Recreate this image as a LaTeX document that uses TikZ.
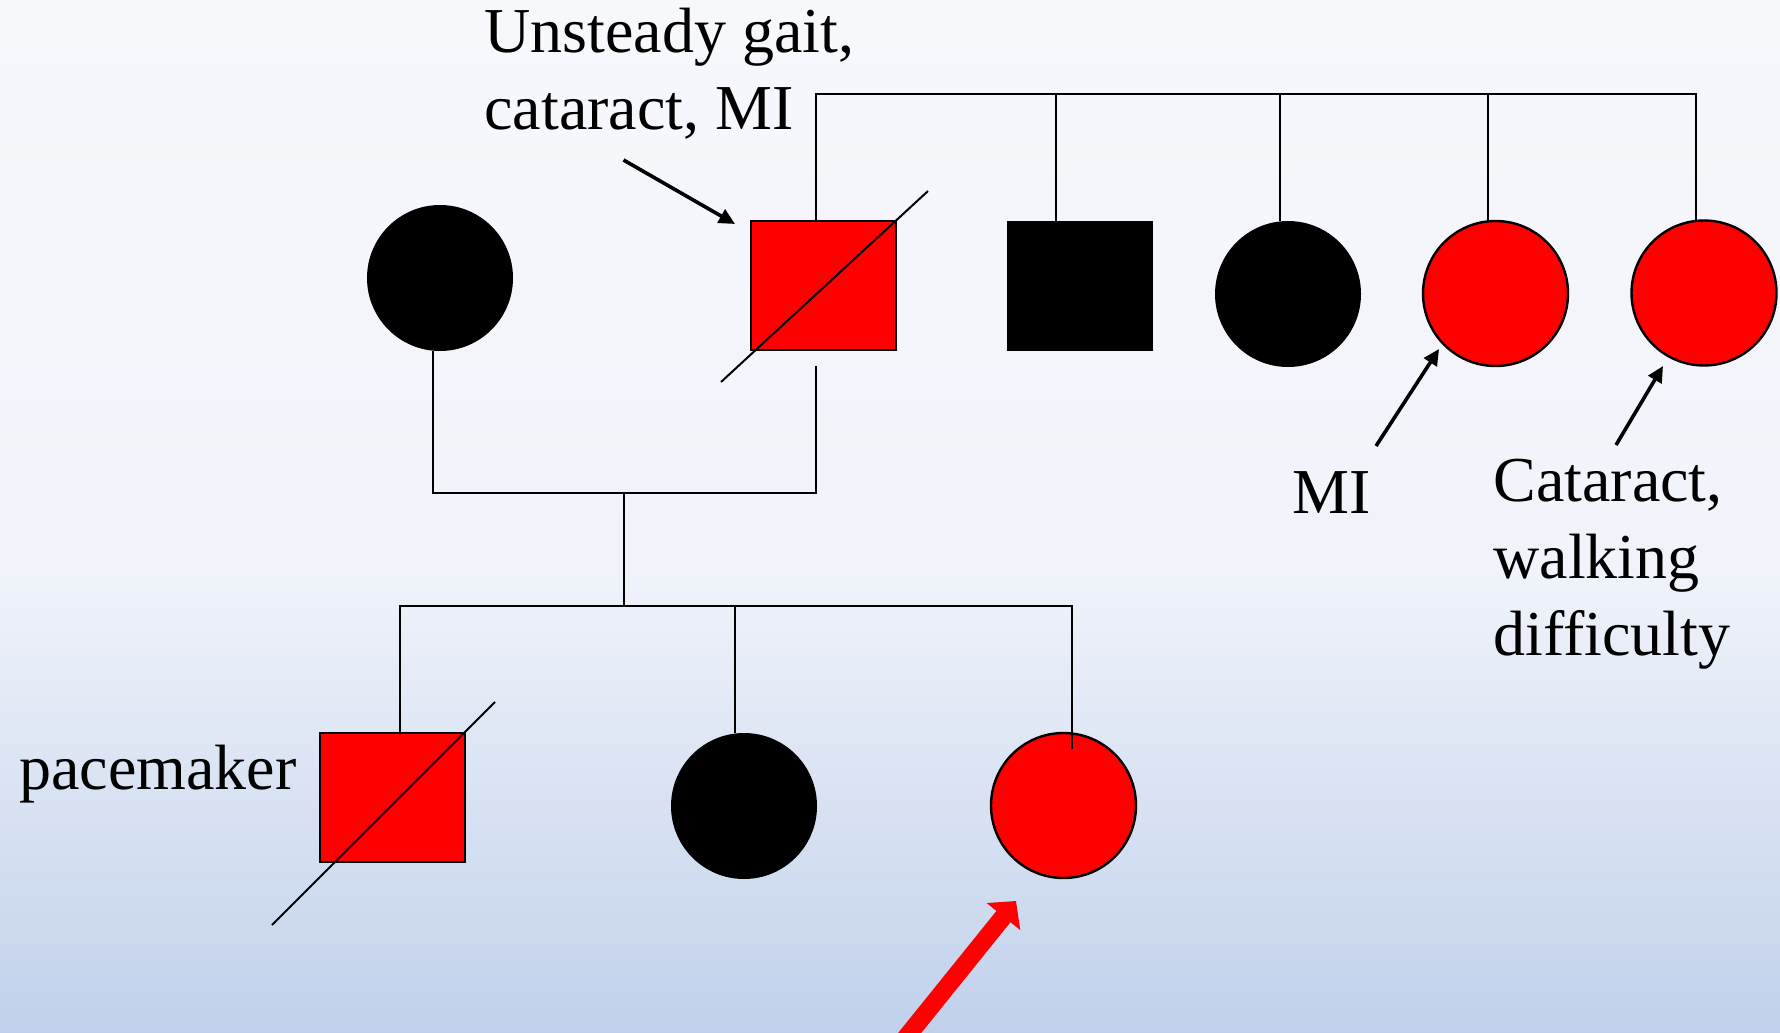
\documentclass[tikz,border=0pt]{standalone}
\usepackage{fontspec}
\setmainfont{Liberation Serif}
\usetikzlibrary{arrows.meta}
\definecolor{bgtop}{HTML}{F7F8FC}
\definecolor{bgmid}{HTML}{F0F3FA}
\definecolor{bgbot}{HTML}{C1D1EB}
\definecolor{aff}{HTML}{FF0000}
\pgfdeclareverticalshading{bgsh}{100bp}{color(0bp)=(bgbot); color(25bp)=(bgbot); color(47.4bp)=(bgmid); color(75bp)=(bgtop); color(100bp)=(bgtop)}
\tikzset{
  person/.style={inner sep=0pt, outer sep=0pt},
  femaleU/.style={person, circle, fill=black, minimum size=73pt},
  femaleA/.style={person, circle, fill=aff, draw=black, line width=1.2pt, minimum size=72.5pt},
  maleU/.style={person, rectangle, fill=black, minimum width=73pt, minimum height=65pt},
  maleA/.style={person, rectangle, fill=aff, draw=black, line width=1.1pt, minimum width=72.5pt, minimum height=64.5pt},
  link/.style={draw=black, line width=1pt},
  dead/.style={draw=black, line width=1pt},
  callout/.style={draw=black, line width=1.8pt, -{Triangle[length=8pt,width=7.5pt]}},
  proband/.style={draw=aff, line width=9pt, -{Triangle[length=10pt,width=21pt]}},
  lbl/.style={inner sep=0pt, font=\fontsize{32}{38.5}\selectfont, align=left}
}
\begin{document}
\begin{tikzpicture}[x=0.5pt,y=-0.5pt]
\useasboundingbox (0,0) rectangle (1780,1032);
\shade[shading=bgsh] (0,0) rectangle (1780,1032);

% top row
\node[femaleU] (gm) at (440,278) {};
\node[maleA]   (gf) at (823.5,285.5) {};
\node[maleU]   (u1) at (1080,286) {};
\node[femaleU] (a1) at (1288,294) {};
\node[femaleA] (a2) at (1495.5,293.5) {};
\node[femaleA] (a3) at (1704,293) {};

% children row
\node[maleA]   (c1) at (392.5,797.5) {};
\node[femaleU] (c2) at (744,806) {};
\node[femaleA] (c3) at (1063.5,805.5) {};

% sibship line of the top row
\coordinate (tL) at (816,94);
\coordinate (tR) at (1696,94);
\draw[link] (gf.north -| tL) -- (tL) -- (tR) -- (a3.north -| tR);
\draw[link] (tL -| 1056,0) -- (u1.north -| 1056,0);
\draw[link] (tL -| 1280,0) -- (1280,221);
\draw[link] (tL -| 1488,0) -- (1488,221.5);

% deceased strokes
\draw[dead] (721,382) -- (928,191);
\draw[dead] (272,925) -- (495,702);

% mating line
\coordinate (mL) at (433,493);
\coordinate (mR) at (816,493);
\coordinate (mC) at (624,493);
\draw[link] (gm.south -| mL) -- (mL) -- (mR) -- (816,366);

% descent and sibship line
\coordinate (sL) at (400,606);
\coordinate (sR) at (1072,606);
\draw[link] (mC) -- (mC |- sL);
\draw[link] (c1.north -| sL) -- (sL) -- (sR) -- (1072,749);
\draw[link] (c2.north -| 735,0) -- (735,606);

% labels (base anchor = baseline of the last line)
\node[lbl, anchor=base west] (t1) at (484,130) {Unsteady gait,\\cataract, MI};
\node[lbl, anchor=base west] (t2) at (1292,513) {MI};
\node[lbl, anchor=base west] (t3) at (1493,655) {Cataract,\\walking\\difficulty};
\node[lbl, anchor=base west] (t4) at (19,789) {pacemaker};

% callout arrows
\coordinate (p1s) at (623.5,160);
\coordinate (p1e) at (735,224);
\coordinate (p2s) at (1376,446);
\coordinate (p2e) at (1439,349);
\coordinate (p3s) at (1616,445);
\coordinate (p3e) at (1663,366);
\draw[callout] (p1s) -- (p1e);
\draw[callout] (p2s) -- (p2e);
\draw[callout] (p3s) -- (p3e);

% proband arrow
\coordinate (prs) at (904,1040);
\coordinate (pre) at (1016,901);
\draw[proband] (prs) -- (pre);
\end{tikzpicture}
\end{document}
